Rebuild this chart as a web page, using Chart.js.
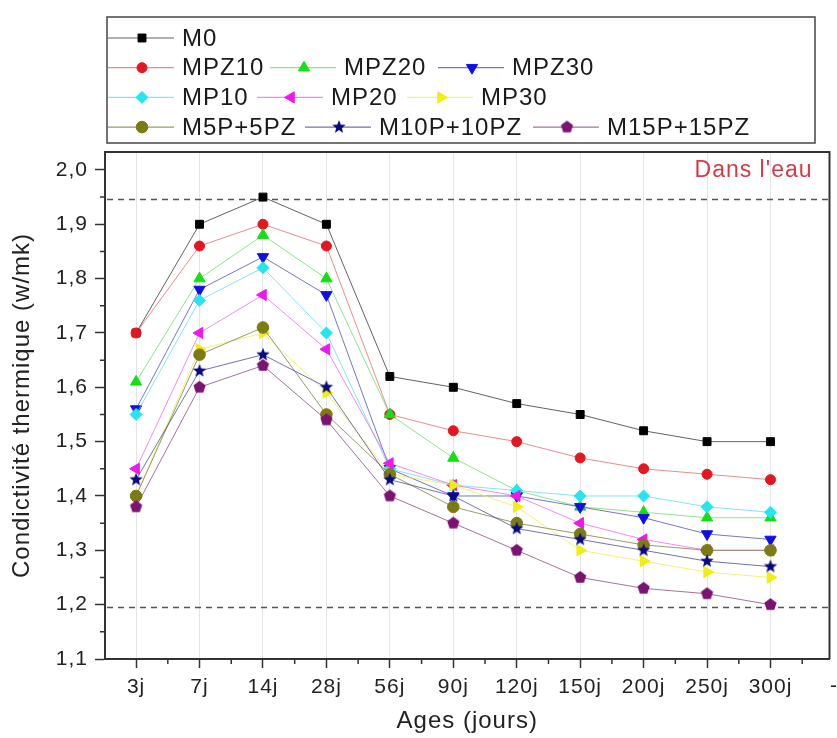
<!DOCTYPE html>
<html>
<head>
<meta charset="utf-8">
<title>Condictivité thermique</title>
<script src="https://cdn.jsdelivr.net/npm/chart.js@4.4.1/dist/chart.umd.min.js"></script>
<style>
    html, body { margin: 0; padding: 0; background: #fff; }
    canvas { display: block; }
</style>
</head>
<body>
<canvas id="chart" width="837" height="738"></canvas>
<script>
// --- data ---
const ages = ['3j', '7j', '14j', '28j', '56j', '90j', '120j', '150j', '200j', '250j', '300j'];
const m0      = [1.70, 1.90, 1.95, 1.90, 1.62, 1.60, 1.57, 1.55, 1.52, 1.50, 1.50];
const mpz10   = [1.70, 1.86, 1.90, 1.86, 1.55, 1.52, 1.50, 1.47, 1.45, 1.44, 1.43];
const mpz20   = [1.61, 1.80, 1.88, 1.80, 1.55, 1.47, 1.41, 1.38, 1.37, 1.36, 1.36];
const mpz30   = [1.56, 1.78, 1.84, 1.77, 1.45, 1.40, 1.40, 1.38, 1.36, 1.33, 1.32];
const mp10    = [1.55, 1.76, 1.82, 1.70, 1.45, 1.42, 1.41, 1.40, 1.40, 1.38, 1.37];
const mp20    = [1.45, 1.70, 1.77, 1.67, 1.46, 1.42, 1.40, 1.35, 1.32, 1.30, 1.30];
const mp30    = [1.40, 1.67, 1.70, 1.59, 1.44, 1.42, 1.38, 1.30, 1.28, 1.26, 1.25];
const m5p5pz  = [1.40, 1.66, 1.71, 1.55, 1.44, 1.38, 1.35, 1.33, 1.31, 1.30, 1.30];
const m10p10pz = [1.43, 1.63, 1.66, 1.60, 1.43, 1.40, 1.34, 1.32, 1.30, 1.28, 1.27];
const m15p15pz = [1.38, 1.60, 1.64, 1.54, 1.40, 1.35, 1.30, 1.25, 1.23, 1.22, 1.20];

const seriesNames = ['M0', 'MPZ10', 'MPZ20', 'MPZ30', 'MP10', 'MP20', 'MP30', 'M5P+5PZ', 'M10P+10PZ', 'M15P+15PZ'];
const seriesValues = [m0, mpz10, mpz20, mpz30, mp10, mp20, mp30, m5p5pz, m10p10pz, m15p15pz];
const yTicks = [1.1, 1.2, 1.3, 1.4, 1.5, 1.6, 1.7, 1.8, 1.9, 2.0];
const yMinorTicks = [1.15, 1.25, 1.35, 1.45, 1.55, 1.65, 1.75, 1.85, 1.95];
const waterLevels = [1.947, 1.196];

const FONT = "'Liberation Sans', Arial, Helvetica, sans-serif";
Chart.defaults.font.family = FONT;

// star and pentagon markers drawn on small canvases
function polyMarker(points, outer, inner, color) {
    const c = document.createElement('canvas');
    const s = Math.ceil(outer * 2) + 2;
    c.width = c.height = s;
    const g = c.getContext('2d');
    const steps = inner ? points * 2 : points;
    g.fillStyle = color;
    g.beginPath();
    for (let k = 0; k < steps; k++) {
        const r = inner && k % 2 ? inner : outer;
        const a = -Math.PI / 2 + k * 2 * Math.PI / steps;
        const px = s / 2 + r * Math.cos(a), py = s / 2 + r * Math.sin(a);
        if (k) g.lineTo(px, py); else g.moveTo(px, py);
    }
    g.closePath();
    g.fill();
    return c;
}

// marker / line look per series
const styles = [
    { color: '#000000', line: 'rgba(70,70,70,0.85)',   pointStyle: 'rect',     rotation: 0,   radius: 5.6 },
    { color: '#e3171f', line: 'rgba(225,90,90,0.7)',   pointStyle: 'circle',   rotation: 0,   radius: 5 },
    { color: '#14e014', line: 'rgba(90,220,90,0.7)',   pointStyle: 'triangle', rotation: 0,   radius: 6.5 },
    { color: '#1010e6', line: 'rgba(60,60,170,0.7)',   pointStyle: 'triangle', rotation: 180, radius: 6.5 },
    { color: '#25e6f0', line: 'rgba(80,220,230,0.7)',  pointStyle: 'rectRot',  rotation: 0,   radius: 6 },
    { color: '#ee18ee', line: 'rgba(235,90,235,0.7)',  pointStyle: 'triangle', rotation: -90, radius: 6.5 },
    { color: '#f2ee10', line: 'rgba(240,236,70,0.75)', pointStyle: 'triangle', rotation: 90,  radius: 6.5 },
    { color: '#7c7a12', line: 'rgba(120,120,60,0.75)', pointStyle: 'circle',   rotation: 0,   radius: 5.8 },
    { color: '#0a0a80', line: 'rgba(70,70,140,0.75)',  pointStyle: polyMarker(5, 7, 3, '#0a0a80'), rotation: 0, radius: 6 },
    { color: '#7c1272', line: 'rgba(130,70,120,0.75)', pointStyle: polyMarker(5, 6.4, 0, '#7c1272'), rotation: 0, radius: 6 },
];

const datasets = seriesValues.map((vals, i) => ({
    label: seriesNames[i],
    data: vals.map((v, j) => ({ x: j, y: v })),
    borderColor: styles[i].line,
    borderWidth: 1,
    backgroundColor: styles[i].color,
    pointBackgroundColor: styles[i].color,
    pointBorderColor: styles[i].color,
    pointBorderWidth: 1,
    pointStyle: styles[i].pointStyle,
    pointRotation: styles[i].rotation,
    pointRadius: styles[i].radius,
    tension: 0,
    order: seriesNames.length - i,
}));

// legend layout: rows of series indices, with x where each item's line starts
const legendRows = [[0], [1, 2, 3], [4, 5, 6], [7, 8, 9]];
const legendStarts = [[108], [108, 270, 438], [108, 257, 407], [108, 305, 533]];

const decorations = {
    id: 'decorations',
    beforeDraw(chart) {
        // the figure's lettering is set a little loose
        chart.ctx.letterSpacing = '1px';
    },
    beforeDatasetsDraw(chart) {
        const { ctx, chartArea: a, scales: { y } } = chart;
        ctx.save();
        ctx.strokeStyle = '#555';
        ctx.lineWidth = 1.5;
        ctx.setLineDash([6, 5]);
        waterLevels.forEach(level => {
            const py = Math.round(y.getPixelForValue(level)) + 0.5;
            ctx.beginPath();
            ctx.moveTo(a.left + 2, py);
            ctx.lineTo(a.right, py);
            ctx.stroke();
        });
        ctx.restore();
    },
    afterDraw(chart) {
        const { ctx, chartArea: a, scales: { x, y } } = chart;
        ctx.save();
        // top and right frame of the plot
        ctx.strokeStyle = '#333';
        ctx.lineWidth = 2;
        ctx.beginPath();
        ctx.moveTo(a.left, a.top);
        ctx.lineTo(a.right, a.top);
        ctx.lineTo(a.right, a.bottom);
        ctx.stroke();

        // minor ticks
        ctx.lineWidth = 1.5;
        ctx.beginPath();
        yMinorTicks.forEach(v => {
            const py = y.getPixelForValue(v);
            ctx.moveTo(a.left - 5, py);
            ctx.lineTo(a.left, py);
        });
        ages.forEach((_, i) => {
            const px = x.getPixelForValue(i + 0.5);
            if (px < a.right) {
                ctx.moveTo(px, a.bottom);
                ctx.lineTo(px, a.bottom + 5);
            }
        });
        ctx.stroke();

        ctx.letterSpacing = '1px';
        // trailing tick label cut by the frame
        ctx.fillStyle = '#222';
        ctx.font = '21px ' + FONT;
        ctx.textAlign = 'center';
        ctx.textBaseline = 'middle';
        ctx.fillText('-', x.getPixelForValue(ages.length), 686);

        // annotation
        ctx.fillStyle = '#d63a4a';
        ctx.font = '23px ' + FONT;
        ctx.textAlign = 'right';
        ctx.fillText("Dans l'eau", a.right - 17, 171);

        // legend box
        ctx.strokeStyle = '#444';
        ctx.lineWidth = 1.5;
        ctx.strokeRect(107, 17, 708, 126);
        ctx.font = '24px ' + FONT;
        ctx.textAlign = 'left';
        legendRows.forEach((row, r) => {
            const cy = 38 + r * 29.7;
            row.forEach((idx, c) => {
                const x0 = legendStarts[r][c];
                const st = styles[idx];
                ctx.strokeStyle = st.line;
                ctx.lineWidth = 1.2;
                ctx.beginPath();
                ctx.moveTo(x0, cy);
                ctx.lineTo(x0 + 66, cy);
                ctx.stroke();
                ctx.fillStyle = st.color;
                ctx.strokeStyle = st.color;
                ctx.lineWidth = 1;
                Chart.helpers.drawPoint(ctx, {
                    pointStyle: st.pointStyle, rotation: st.rotation,
                    radius: st.radius, borderWidth: 1,
                }, x0 + 34, cy);
                ctx.fillStyle = '#1a1a1a';
                ctx.fillText(seriesNames[idx], x0 + 74, cy + 1);
            });
        });
        ctx.restore();
    },
};

new Chart(document.getElementById('chart'), {
    type: 'line',
    data: { datasets },
    options: {
        responsive: false,
        animation: false,
        devicePixelRatio: 1,
        layout: { padding: { top: 152, right: 4, left: 0, bottom: 0 } },
        plugins: { legend: { display: false }, tooltip: { enabled: false } },
        scales: {
            x: {
                type: 'linear',
                min: -0.49,
                max: 10.93,
                afterBuildTicks: s => { s.ticks = ages.map((_, i) => ({ value: i })); },
                afterFit: s => { s.height = 79; },
                ticks: {
                    callback: v => ages[v] ?? '',
                    font: { size: 21 },
                    color: '#222',
                    padding: 7,
                    maxRotation: 0,
                    autoSkip: false,
                },
                grid: { color: '#e4e4e4', tickColor: '#333', tickLength: 9, tickWidth: 1.5 },
                border: { color: '#333', width: 2 },
                title: {
                    display: true, text: 'Ages (jours)', color: '#222',
                    font: { size: 24 }, padding: { top: 0, bottom: 2 },
                },
            },
            y: {
                type: 'linear',
                min: 1.1,
                max: 2.033,
                afterBuildTicks: s => { s.ticks = yTicks.map(v => ({ value: v })); },
                afterFit: s => { s.width = 105; },
                ticks: {
                    callback: v => v.toFixed(1).replace('.', ','),
                    font: { size: 21 },
                    color: '#222',
                    padding: 7,
                },
                grid: { drawOnChartArea: false, tickColor: '#333', tickLength: 10, tickWidth: 1.5 },
                border: { color: '#333', width: 2 },
                title: {
                    display: true, text: 'Condictivité thermique (w/mk)', color: '#222',
                    font: { size: 24 }, padding: { top: 8, bottom: 0 },
                },
            },
        },
    },
    plugins: [decorations],
});
</script>
</body>
</html>
